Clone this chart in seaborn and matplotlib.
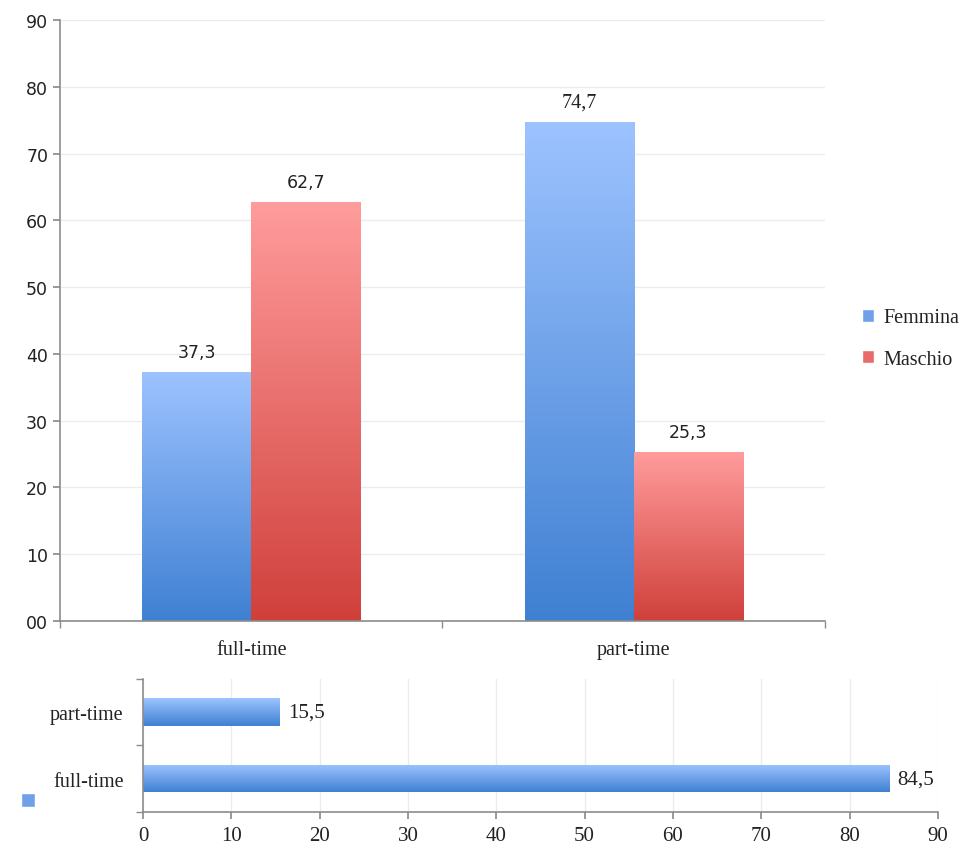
"""
Full-time / part-time by sex (top) and total share (bottom)
"""

## Import packages
import numpy as np
import pandas as pd
import matplotlib
matplotlib.use('Agg')
import matplotlib.pyplot as plt
import seaborn as sns
from matplotlib.colors import LinearSegmentedColormap
from matplotlib.patches import Patch
from matplotlib.ticker import FuncFormatter, FixedLocator


## Data
contracts = ['full-time', 'part-time']
sexes = ['Femmina', 'Maschio']
femmina = [37.3, 74.7]
maschio = [62.7, 25.3]

total_contracts = ['part-time', 'full-time']
total_values = [15.5, 84.5]


## Style
sns.set_theme(style='white')
plt.rcParams['font.family'] = ['DejaVu Sans']
serif = ['Liberation Serif', 'DejaVu Serif']

# Gradient colours (light top -> dark bottom)
blue_cmap = LinearSegmentedColormap.from_list('b', ['#9dc3ff', '#3f80d2'])
red_cmap = LinearSegmentedColormap.from_list('r', ['#ff9c9c', '#d0403b'])
spine_col = '#8c8c8c'
grid_col = '#ececec'


def gradient_fill(ax, patch, cmap, inverted=False):
    # Replace the flat face of a bar with a gradient (light at the visual top)
    bb = patch.get_bbox()
    x0, y0, x1, y1 = bb.x0, bb.y0, bb.x1, bb.y1
    grad = np.linspace(0, 1, 256).reshape(-1, 1)
    patch.set_facecolor('none')
    patch.set_edgecolor('none')
    ext = [x0, x1, y1, y0] if inverted else [x0, x1, y0, y1]
    im = ax.imshow(grad, cmap=cmap, aspect='auto', interpolation='bicubic',
                   extent=ext, origin='upper', zorder=2)
    im.set_clip_path(patch)


## Figure
fig = plt.figure(figsize=(9.8, 8.54), dpi=100)
ax1 = fig.add_axes([0.0612, 0.2717, 0.7806, 0.7037])
ax2 = fig.add_axes([0.146, 0.048, 0.811, 0.156])

# Top panel: grouped vertical bars
df = pd.DataFrame({'contract': contracts * 2,
                   'sex': [sexes[0]] * 2 + [sexes[1]] * 2,
                   'value': femmina + maschio})
sns.barplot(data=df, x='contract', y='value', hue='sex', order=contracts,
            hue_order=sexes, palette=['#6fa0e8', '#e86b6b'], width=0.57,
            ax=ax1, legend=False, saturation=1)
ax1.set_xlim(-0.5, 1.5)
ax1.set_ylim(0, 90)

cmaps = [blue_cmap, red_cmap]
for cont, cmap in zip(ax1.containers, cmaps):
    for p in cont:
        gradient_fill(ax1, p, cmap)
ax1.set_xlim(-0.5, 1.5)
ax1.set_ylim(0, 90)

for cont, vals in zip(ax1.containers, [femmina, maschio]):
    texts = ax1.bar_label(cont, labels=[f'{v:.1f}'.replace('.', ',') for v in vals],
                          padding=8, fontsize=12.5, color='#222222')
    for t, v in zip(texts, vals):
        if v == 74.7:
            t.set_fontfamily(serif)
            t.set_fontsize(14.5)

ax1.set_yticks(np.arange(0, 91, 10))
ax1.yaxis.set_major_formatter(FuncFormatter(lambda v, pos: f'{int(v):02d}'))
ax1.tick_params(axis='y', labelsize=12.5, length=5, color=spine_col, left=True,
                labelcolor='#222222')
ax1.xaxis.set_minor_locator(FixedLocator([-0.5, 0.5, 1.5]))
ax1.tick_params(axis='x', which='major', length=0, pad=14)
ax1.tick_params(axis='x', which='minor', length=5, color=spine_col, bottom=True)
for lbl in ax1.get_xticklabels():
    lbl.set_fontfamily(serif)
    lbl.set_fontsize(14.5)
    lbl.set_color('#222222')
ax1.yaxis.grid(True, color=grid_col, lw=1)
ax1.set_axisbelow(True)
ax1.set_xlabel('')
ax1.set_ylabel('')
for s in ['top', 'right']:
    ax1.spines[s].set_visible(False)
for s in ['left', 'bottom']:
    ax1.spines[s].set_color(spine_col)
    ax1.spines[s].set_linewidth(1.2)

handles = [Patch(facecolor='#6fa0e8', label=sexes[0]),
           Patch(facecolor='#e86b6b', label=sexes[1])]
ax1.legend(handles=handles, loc='center left', bbox_to_anchor=(1.025, 0.47),
           frameon=False, prop={'family': serif, 'size': 14.5},
           handlelength=0.6, handleheight=0.6, handletextpad=0.45,
           labelspacing=1.1, labelcolor='#222222')

# Bottom panel: horizontal bars
df2 = pd.DataFrame({'contract': total_contracts, 'value': total_values})
sns.barplot(data=df2, y='contract', x='value', order=total_contracts,
            color='#6fa0e8', width=0.41, ax=ax2, saturation=1)
ax2.set_xlim(0, 90)
ax2.set_ylim(1.5, -0.5)
for p in ax2.patches:
    gradient_fill(ax2, p, blue_cmap, inverted=True)
ax2.set_xlim(0, 90)
ax2.set_ylim(1.5, -0.5)

ax2.bar_label(ax2.containers[0],
              labels=[f'{v:.1f}'.replace('.', ',') for v in total_values],
              padding=6, fontsize=15, family=serif, color='#222222')

ax2.set_xticks(np.arange(0, 91, 10))
ax2.tick_params(axis='x', labelsize=15, length=5, color=spine_col, bottom=True,
                labelcolor='#222222', pad=5)
for lbl in ax2.get_xticklabels():
    lbl.set_fontfamily(serif)
ax2.yaxis.set_minor_locator(FixedLocator([-0.5, 0.5, 1.5]))
ax2.tick_params(axis='y', which='major', length=0, pad=14)
ax2.tick_params(axis='y', which='minor', length=5, color=spine_col, left=True)
for lbl in ax2.get_yticklabels():
    lbl.set_fontfamily(serif)
    lbl.set_fontsize(14.5)
    lbl.set_color('#222222')
ax2.xaxis.grid(True, color=grid_col, lw=1)
ax2.set_axisbelow(True)
ax2.set_xlabel('')
ax2.set_ylabel('')
for s in ['top', 'right']:
    ax2.spines[s].set_visible(False)
for s in ['left', 'bottom']:
    ax2.spines[s].set_color(spine_col)
    ax2.spines[s].set_linewidth(1.2)

# Stray legend marker without label
ax2.legend(handles=[Patch(facecolor='#6fa0e8', label='')], loc='center',
           bbox_to_anchor=(-0.145, 0.08), frameon=False, fontsize=14,
           handlelength=0.7, handleheight=0.7, handletextpad=0)

fig.savefig('out.png', dpi=100, facecolor='white')
